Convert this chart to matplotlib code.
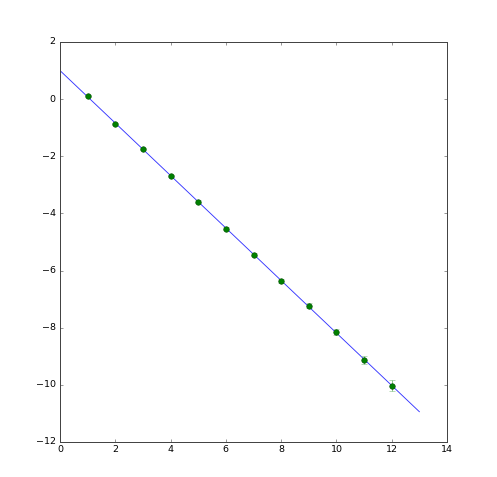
import matplotlib
matplotlib.use('Agg')
import matplotlib.pyplot as plt
# ------------------------------ #

# measured points with their error bars
xPoints = [1, 2, 3, 4, 5, 6, 7, 8, 9, 10, 11, 12]
yPoints = [0.11, -0.87, -1.74, -2.68, -3.59, -4.53, -5.44, -6.35, -7.23, -8.15, -9.13, -10.03]
yErrors = [0.03, 0.03, 0.04, 0.04, 0.05, 0.05, 0.06, 0.07, 0.08, 0.09, 0.13, 0.19]

# fitted line, end points
xLine = [0, 13]
yLine = [1.0, -10.94]
# ------------------------------ #

plt.style.use('classic')
plt.rcParams['font.size'] = 8.5

fig = plt.figure(figsize = (497 / 80, 477 / 80), dpi = 80, facecolor = 'white')
ax = fig.add_axes([60 / 497, 35 / 477, 387 / 497, 400 / 477])

ax.plot(xLine, yLine, color = '#3333ff', linewidth = 0.8)
ax.errorbar(
	xPoints, yPoints, yerr = yErrors,
	fmt = 'o', color = 'g', ecolor = (0.5, 0.75, 0.5),
	markersize = 5, markeredgecolor = (0, 0.3, 0), capsize = 2.5, elinewidth = 0.8
)

ax.set_xlim(0, 14)
ax.set_ylim(-12, 2)

for spine in ax.spines.values():
	spine.set_linewidth(0.9)
	spine.set_color('#444444')

ax.tick_params(which = 'major', length = 3, pad = 4, color = '#444444')
ax.tick_params(axis = 'x', pad = 3)

fig.savefig('out.png', dpi = 80, facecolor = 'white')
